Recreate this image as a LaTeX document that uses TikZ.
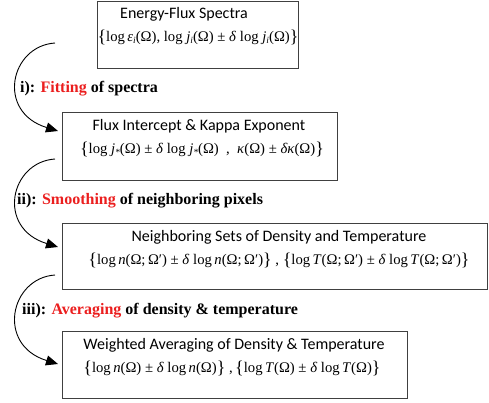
\documentclass[tikz,border=0pt]{standalone}
\usepackage{fontspec}
\setmainfont{Liberation Serif}
\newfontfamily\titlefont{Carlito}
\usetikzlibrary{arrows.meta}
\definecolor{stepred}{RGB}{235,30,30}
\newcommand\Lbr{{\fontsize{18}{18}\selectfont\raisebox{-0.1ex}{\{}}}
\newcommand\Rbr{{\fontsize{18}{18}\selectfont\raisebox{-0.1ex}{\}}}}
\newcommand\sbs[1]{\raisebox{-0.35ex}{\fontsize{9.5}{10}\selectfont\itshape #1}}
\newcommand\vv[1]{\textit{#1}}
\newcommand\Om{(Ω)}
\newcommand\Omp{(Ω;\,Ω′)}
\tikzset{
  box/.style={draw=black!75, line width=0.9pt, anchor=north west, inner sep=0pt},
  ttl/.style={font=\titlefont\fontsize{16}{18}\selectfont, anchor=center},
  frm/.style={font=\fontsize{14.7}{17}\selectfont, anchor=center},
  lbl/.style={font=\bfseries\fontsize{16}{18}\selectfont, anchor=west, inner sep=0pt},
  conn/.style={line width=0.9pt, -{Triangle[length=12pt,width=10pt]}},
}
\begin{document}
\begin{tikzpicture}[x=1pt,y=-1pt]
\useasboundingbox (0,0) rectangle (489,402);
% boxes
\node[box, minimum width=201pt, minimum height=67pt] (b1) at (97,1) {};
\node[box, minimum width=275pt, minimum height=68pt] (b2) at (62,112) {};
\node[box, minimum width=425pt, minimum height=66pt] (b3) at (62,223) {};
\node[box, minimum width=345pt, minimum height=67pt] (b4) at (62,331) {};
% texts
\node[ttl] (t1) at (184,14) {Energy-Flux Spectra};
\node[frm] (f1) at (198,37) {\Lbr log\,\vv{ε}\sbs{i}\Om, log \vv{j}\sbs{i}\Om\ ± \vv{δ} log \vv{j}\sbs{i}\Om\Rbr};
\node[ttl] (t2) at (199,126) {Flux Intercept \& Kappa Exponent};
\node[frm] (f2) at (202,149) {\Lbr log \vv{j}\sbs{*}\Om\ ± \vv{δ} log \vv{j}\sbs{*}\Om\enspace,\enspace\vv{κ}\Om\ ± \vv{δκ}\Om\Rbr};
\node[ttl] (t3) at (279,237) {Neighboring Sets of Density and Temperature};
\node[frm] (f3) at (279,260) {\Lbr log\,\vv{n}\Omp\ ± \vv{δ} log\,\vv{n}\Omp\Rbr\ ,\ \Lbr log\,\vv{T}\Omp\ ± \vv{δ} log\,\vv{T}\Omp\Rbr};
\node[ttl] (t4) at (234,345) {Weighted Averaging of Density \& Temperature};
\node[frm] (f4) at (232,368) {\Lbr log\,\vv{n}\Om\ ± \vv{δ} log\,\vv{n}\Om\Rbr\ ,\,\Lbr log\,\vv{T}\Om\ ± \vv{δ} log\,\vv{T}\Om\Rbr};
% labels
\node[lbl] (l1) at (20,89) {i): \textcolor{stepred}{Fitting} of spectra};
\node[lbl] (l2) at (17,201) {ii): \textcolor{stepred}{Smoothing} of neighboring pixels};
\node[lbl] (l3) at (22,311) {iii): \textcolor{stepred}{Averaging} of density \& temperature};
% connector ends
\coordinate (s1) at (55,43);
\coordinate (e1) at (58,131);
\coordinate (s2) at (55,159);
\coordinate (e2) at (58,247);
\coordinate (s3) at (55,275);
\coordinate (e3) at (58,364);
\draw[conn] (s1) .. controls (10,46) and (-4,112) .. (e1);
\draw[conn] (s2) .. controls (10,162) and (-4,228) .. (e2);
\draw[conn] (s3) .. controls (10,278) and (-4,345) .. (e3);
\end{tikzpicture}
\end{document}
